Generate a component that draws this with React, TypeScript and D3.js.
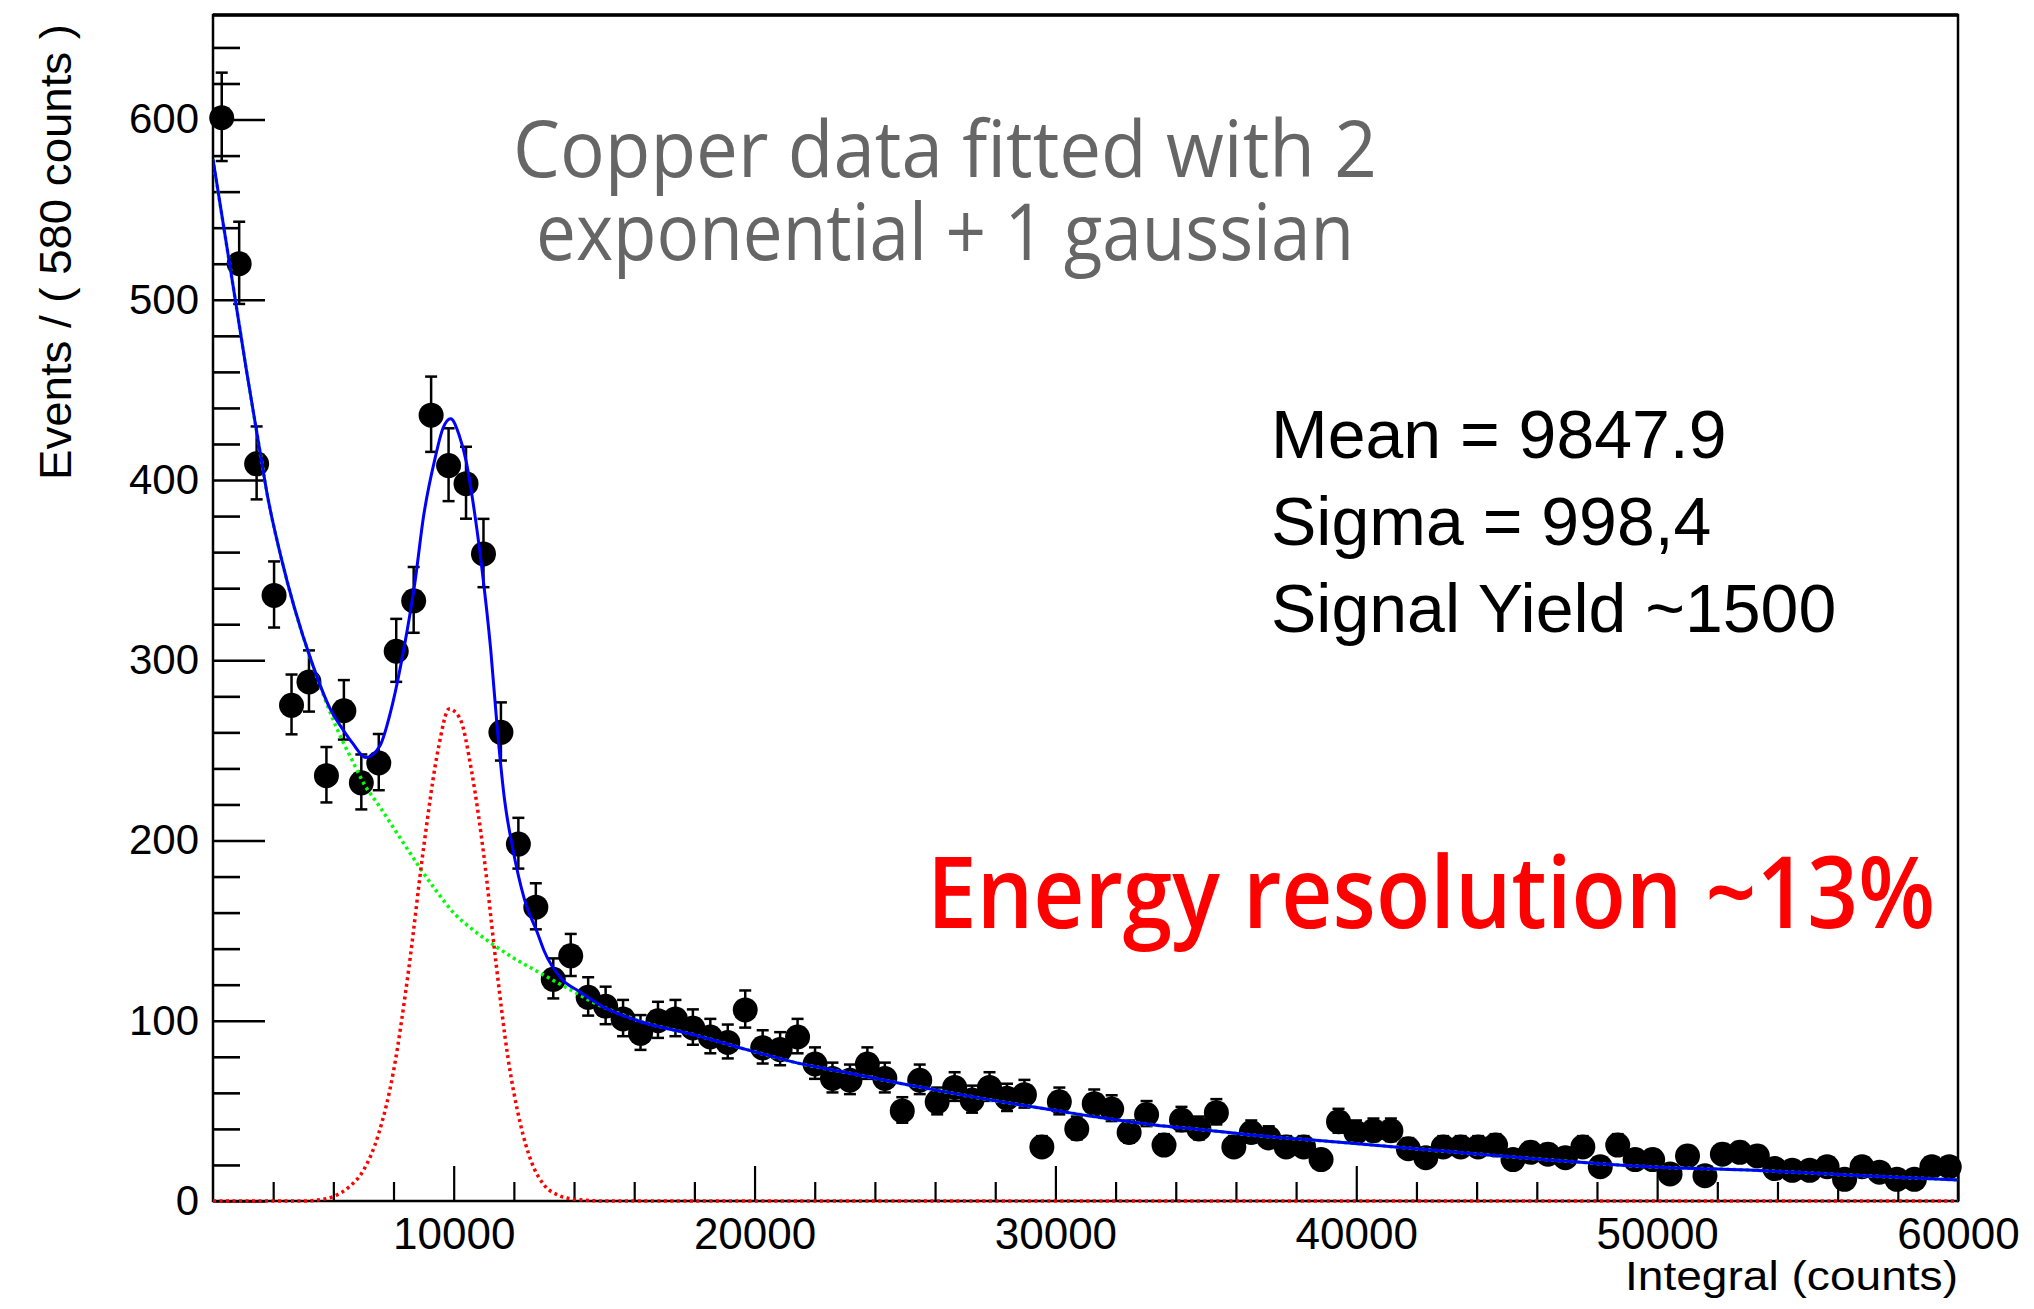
import React, { useEffect, useRef } from "react";
import * as d3 from "d3";

// Canvas and frame geometry
const WIDTH = 2034;
const HEIGHT = 1309;
const FRAME = { left: 213, right: 1958, top: 15, bottom: 1201 };

// Histogram binning: 100 bins of 580 counts
const X_MIN = 2000;
const X_MAX = 60000;
const BIN_WIDTH = 580;
const Y_MAX = 658;

// Events per bin (Copper spectrum)
const eventsPerBin = [
  601, 520, 409, 336, 275, 288, 236, 272, 232, 243,
  305, 333, 436, 408, 398, 359, 260, 198, 163, 123,
  136, 113, 108, 101, 93, 100, 101, 96, 91, 88,
  106, 85, 84, 91, 76, 68, 67, 76, 68, 50,
  67, 55, 63, 56, 63, 57, 59, 30, 55, 40,
  54, 51, 38, 48, 31, 45, 40, 49, 30, 38,
  35, 30, 30, 23, 44, 38, 39, 39, 29, 24,
  30, 30, 30, 31, 23, 27, 26, 24, 30, 19,
  31, 23, 23, 15, 25, 14, 26, 27, 25, 18,
  17, 17, 19, 12, 19, 16, 12, 12, 19, 19,
];

// Total fit (2 exponentials + gaussian): [integral, events]
const totalFit: [number, number][] = [
  [2000, 578], [2370, 539], [2741, 500], [3100, 462], [3500, 422], [3825, 390],
  [4265, 357], [4708, 329], [5302, 298], [5896, 273], [6340, 261], [6640, 254],
  [7080, 246], [7530, 252], [7970, 276], [8340, 306], [8710, 343], [9000, 380],
  [9380, 412], [9650, 429], [9900, 434], [10180, 425], [10420, 410], [10640, 388],
  [10930, 352], [11230, 306], [11450, 262], [11680, 224], [11970, 195], [12340, 168],
  [12800, 148], [13000, 139], [13600, 123], [14200, 116], [14940, 108], [16120, 100],
  [18050, 92], [19740, 84], [21440, 76.5], [23130, 71], [24820, 65.3], [26520, 60],
  [28210, 55], [29900, 50.5], [31600, 46], [33290, 42.2], [34980, 39.4], [36680, 36.3],
  [38000, 34.5], [39750, 32.2], [43070, 27.4], [46390, 22.8], [49710, 19], [53030, 17.2],
  [56350, 14.4], [60000, 11.7],
];

// Background component (2 exponentials)
const backgroundFit: [number, number][] = [
  [2000, 578], [2370, 539], [2741, 500], [3100, 462], [3500, 422], [3825, 390],
  [4265, 357], [4708, 329], [5302, 298], [5896, 271], [6340, 254], [6640, 244],
  [7000, 232], [7530, 219], [8120, 204], [8790, 187], [9380, 173], [10050, 159],
  [10600, 151], [11080, 145], [11970, 135], [12710, 128], [13300, 122.5], [13900, 117],
  [14660, 110], [15500, 104], [16360, 99], [18050, 92], [19740, 84], [21440, 76.5],
  [23130, 71], [24820, 65.3], [26520, 60], [28210, 55], [29900, 50.5], [31600, 46],
  [33290, 42.2], [34980, 39.4], [36680, 36.3], [38000, 34.5], [39750, 32.2], [43070, 27.4],
  [46390, 22.8], [49710, 19], [53030, 17.2], [56350, 14.4], [60000, 11.7],
];

// Signal component (gaussian)
const signalFit: [number, number][] = [
  [2000, 0], [5000, 0], [5500, 0.6], [6000, 2.5], [6500, 7.5], [7000, 17],
  [7500, 37], [8000, 72], [8500, 128], [9000, 196], [9500, 252], [9847.9, 273],
  [10200, 268], [10600, 238], [11000, 192], [11400, 133], [11800, 80], [12200, 44],
  [12600, 21], [13000, 9], [13500, 3], [14000, 1], [14500, 0.3], [15000, 0], [60000, 0],
];

// Axis ticks
const xMajorTicks = [10000, 20000, 30000, 40000, 50000, 60000];
const xMinorTicks = d3.range(4000, 60000, 2000).filter((v) => v % 10000 !== 0);
const yMajorTicks = [0, 100, 200, 300, 400, 500, 600];
const yMinorTicks = d3.range(20, 660, 20).filter((v) => v % 100 !== 0);

// Annotations
const titleLines = ["Copper data fitted with 2", "exponential + 1 gaussian"];
const fitResults = ["Mean = 9847.9", "Sigma = 998,4", "Signal Yield ~1500"];
const resolutionNote = "Energy resolution ~13%";
const xTitle = "Integral (counts)";
const yTitle = "Events / ( 580 counts )";

const SANS = "'Liberation Sans', Arial, Helvetica, sans-serif";
const HUMANIST = "'Open Sans', Lato, 'Noto Sans', sans-serif";

export default function App() {
  const xAxisRef = useRef<SVGGElement>(null);
  const yAxisRef = useRef<SVGGElement>(null);

  const x = d3.scaleLinear().domain([X_MIN, X_MAX]).range([FRAME.left, FRAME.right]);
  const y = d3.scaleLinear().domain([0, Y_MAX]).range([FRAME.bottom, FRAME.top]);

  const binCenters = eventsPerBin.map((_, i) => X_MIN + BIN_WIDTH * (i + 0.5));

  const line = d3
    .line<[number, number]>()
    .x((d) => x(d[0]))
    .y((d) => y(d[1]))
    .curve(d3.curveMonotoneX);

  useEffect(() => {
    const gx = d3.select(xAxisRef.current!);
    gx.selectAll("*").remove();
    gx.append("g").call(
      d3.axisBottom(x).tickValues(xMinorTicks).tickSizeInner(-19).tickSizeOuter(0).tickFormat(() => "")
    );
    gx.append("g").call(
      d3
        .axisBottom(x)
        .tickValues(xMajorTicks)
        .tickSizeInner(-35)
        .tickSizeOuter(0)
        .tickPadding(17)
        .tickFormat(d3.format("d"))
    );
    gx.selectAll("path.domain").remove();
    gx.selectAll("line").attr("stroke", "#000").attr("stroke-width", 2.2);
    gx.selectAll("text")
      .attr("font-family", SANS)
      .attr("font-size", 44)
      .attr("fill", "#000");

    const gy = d3.select(yAxisRef.current!);
    gy.selectAll("*").remove();
    gy.append("g").call(
      d3.axisLeft(y).tickValues(yMinorTicks).tickSizeInner(-27).tickSizeOuter(0).tickFormat(() => "")
    );
    gy.append("g").call(
      d3
        .axisLeft(y)
        .tickValues(yMajorTicks)
        .tickSizeInner(-52)
        .tickSizeOuter(0)
        .tickPadding(14)
        .tickFormat(d3.format("d"))
    );
    gy.selectAll("path.domain").remove();
    gy.selectAll("line").attr("stroke", "#000").attr("stroke-width", 2.6);
    gy.selectAll("text")
      .attr("font-family", SANS)
      .attr("font-size", 42)
      .attr("fill", "#000");
  }, []);

  return (
    <svg
      width={WIDTH}
      height={HEIGHT}
      viewBox={`0 0 ${WIDTH} ${HEIGHT}`}
      style={{ position: "absolute", left: 0, top: 0, display: "block", background: "#fff" }}
    >
      <defs>
        <clipPath id="plot-clip">
          <rect
            x={FRAME.left}
            y={FRAME.top}
            width={FRAME.right - FRAME.left}
            height={FRAME.bottom - FRAME.top + 4}
          />
        </clipPath>
      </defs>

      <rect x={0} y={0} width={WIDTH} height={HEIGHT} fill="#fff" />

      {/* Frame */}
      <rect
        x={FRAME.left}
        y={FRAME.top}
        width={FRAME.right - FRAME.left}
        height={FRAME.bottom - FRAME.top}
        fill="none"
        stroke="#000"
        strokeWidth={2.5}
      />
      <line x1={FRAME.left} x2={FRAME.right} y1={FRAME.top} y2={FRAME.top} stroke="#000" strokeWidth={3.5} />

      <g ref={xAxisRef} transform={`translate(0,${FRAME.bottom})`} />
      <g ref={yAxisRef} transform={`translate(${FRAME.left},0)`} />

      {/* Title */}
      {titleLines.map((t, i) => (
        <text
          key={t}
          x={945}
          y={[177, 260][i]}
          textAnchor="middle"
          fontFamily={HUMANIST}
          fontSize={78}
          fill="#666"
          textLength={[864, 818][i]}
          lengthAdjust="spacingAndGlyphs"
        >
          {t}
        </text>
      ))}

      {/* Fit results */}
      {fitResults.map((t, i) => (
        <text key={t} x={1271} y={458 + i * 87} fontFamily={SANS} fontSize={68} fill="#000">
          {t}
        </text>
      ))}

      <text
        x={1431}
        y={928}
        textAnchor="middle"
        fontFamily={HUMANIST}
        fontWeight={600}
        fontSize={100}
        fill="#ff0000"
        textLength={1008}
        lengthAdjust="spacingAndGlyphs"
      >
        {resolutionNote}
      </text>

      {/* Data points with Poisson error bars */}
      <g>
        {eventsPerBin.map((n, i) => {
          const cx = x(binCenters[i]);
          const s = Math.sqrt(n + 0.25);
          const yHi = y(n + s + 0.5);
          const yLo = y(n - s + 0.5);
          return (
            <g key={i}>
              <line x1={cx} x2={cx} y1={yHi} y2={yLo} stroke="#000" strokeWidth={2.5} />
              <line x1={cx - 6} x2={cx + 6} y1={yHi} y2={yHi} stroke="#000" strokeWidth={2.5} />
              <line x1={cx - 6} x2={cx + 6} y1={yLo} y2={yLo} stroke="#000" strokeWidth={2.5} />
              <circle cx={cx} cy={y(n)} r={12.5} fill="#000" />
            </g>
          );
        })}
      </g>

      {/* Fit curves */}
      <g clipPath="url(#plot-clip)">
        <path
          d={line(backgroundFit) ?? ""}
          fill="none"
          stroke="#00ff00"
          strokeWidth={3.5}
          strokeDasharray="3 3.5"
        />
        <path
          d={line(signalFit) ?? ""}
          fill="none"
          stroke="#ff0000"
          strokeWidth={3.5}
          strokeDasharray="3 3.5"
        />
        <path d={line(totalFit) ?? ""} fill="none" stroke="#0000ff" strokeWidth={3} />
      </g>

      {/* Axis titles */}
      <text
        x={FRAME.right}
        y={1290}
        textAnchor="end"
        fontFamily={SANS}
        fontSize={40}
        fill="#000"
        textLength={333}
        lengthAdjust="spacingAndGlyphs"
      >
        {xTitle}
      </text>
      <text
        transform="translate(71,24) rotate(-90)"
        textAnchor="end"
        fontFamily={SANS}
        fontSize={45}
        fill="#000"
        textLength={456}
        lengthAdjust="spacingAndGlyphs"
      >
        {yTitle}
      </text>
    </svg>
  );
}
